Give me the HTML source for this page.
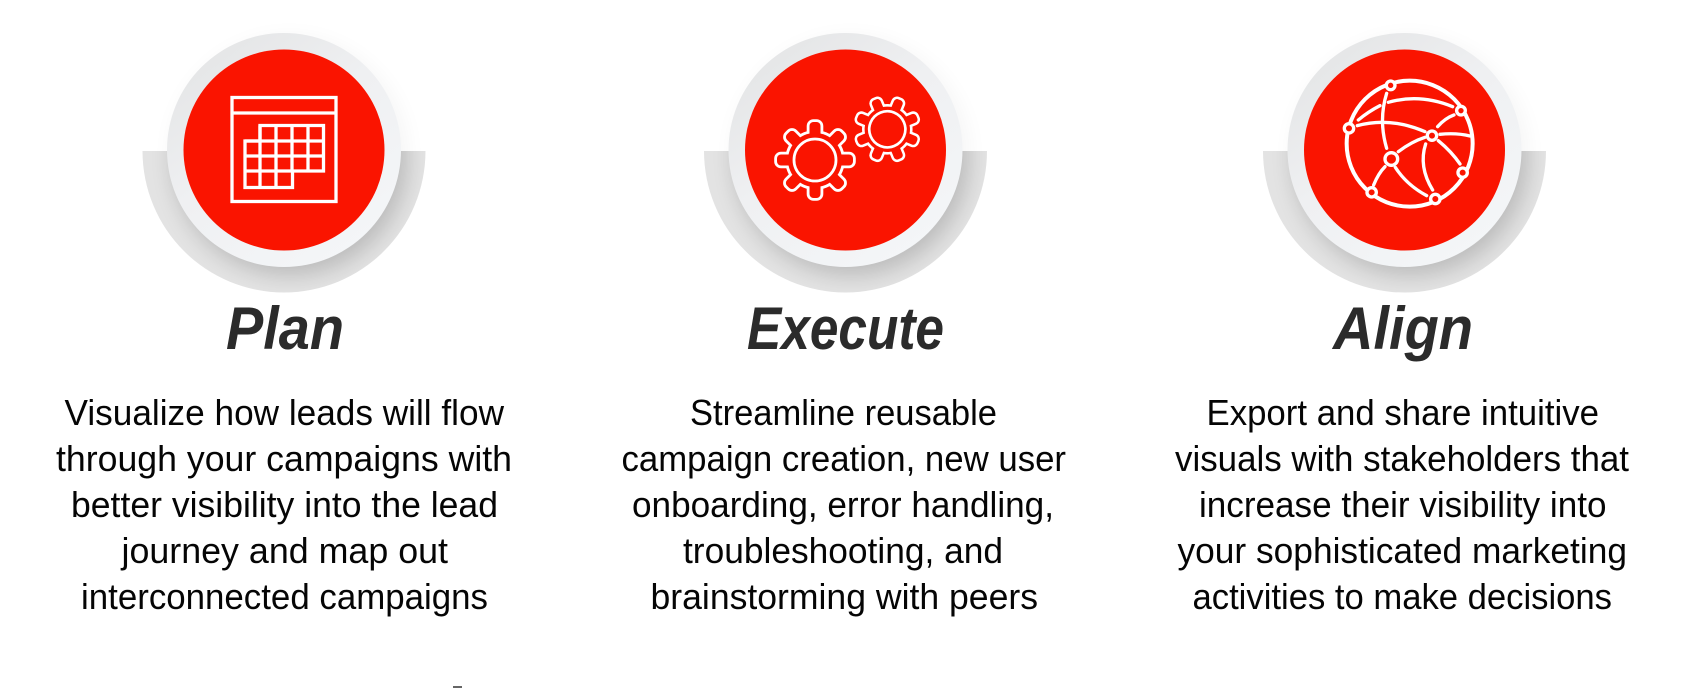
<!DOCTYPE html>
<html lang="en">
<head>
<meta charset="utf-8">
<title>Plan, Execute, Align</title>
<style>
html,body{margin:0;padding:0;background:#fff;width:1686px;height:688px;overflow:hidden}
svg{display:block}
.t{font-family:"Liberation Sans",sans-serif;font-weight:700;font-style:italic;font-size:60px;fill:#2b2b2b}
.b{font-family:"Liberation Sans",sans-serif;font-size:36px;fill:#050505}
.ic{fill:none;stroke:#fff;stroke-linecap:round}
</style>
</head>
<body>
<svg width="1686" height="688" viewBox="0 0 1686 688" xmlns="http://www.w3.org/2000/svg">
<defs>
  <linearGradient id="ring" x1="0.15" y1="0.05" x2="0.8" y2="0.95">
    <stop offset="0" stop-color="#e4e5e6"/>
    <stop offset="0.45" stop-color="#eff0f2"/>
    <stop offset="1" stop-color="#f4f6f8"/>
  </linearGradient>
  <filter id="sh" x="-30%" y="-30%" width="160%" height="160%">
    <feGaussianBlur stdDeviation="11"/>
  </filter>
  <clipPath id="halfclip"><path d="M-141.5 1A141.5 141.5 0 0 0 141.5 1Z"/></clipPath>
  <g id="badge">
    <circle cx="5" cy="5" r="118" fill="#000" opacity="0.04" filter="url(#sh)"/>
    <path d="M-141.5 1A141.5 141.5 0 0 0 141.5 1Z" fill="#e3e3e3"/>
    <g clip-path="url(#halfclip)">
      <circle cx="6" cy="8" r="118" fill="#000" opacity="0.17" filter="url(#sh)"/>
    </g>
    <circle r="117" fill="url(#ring)"/>
    <circle r="100.5" fill="#fa1400"/>
  </g>
  <g id="gearShape">
    <circle r="27"/>
    <rect x="-5.500" y="-38" width="11" height="22" rx="4"/>
    <rect x="-5.500" y="-38" width="11" height="22" rx="4" transform="rotate(45)"/>
    <rect x="-5.500" y="-38" width="11" height="22" rx="4" transform="rotate(90)"/>
    <rect x="-5.500" y="-38" width="11" height="22" rx="4" transform="rotate(135)"/>
    <rect x="-5.500" y="-38" width="11" height="22" rx="4" transform="rotate(180)"/>
    <rect x="-5.500" y="-38" width="11" height="22" rx="4" transform="rotate(225)"/>
    <rect x="-5.500" y="-38" width="11" height="22" rx="4" transform="rotate(270)"/>
    <rect x="-5.500" y="-38" width="11" height="22" rx="4" transform="rotate(315)"/>
  </g>
</defs>

<use href="#badge" transform="translate(284,150)"/>
<use href="#badge" transform="translate(845.5,150)"/>
<use href="#badge" transform="translate(1404.5,150)"/>

<!-- Calendar -->
<g fill="none" stroke="#fff" stroke-width="3.300">
  <rect x="232" y="97.500" width="104" height="104"/>
  <path d="M232 113H336" />
  <path d="M260 125.500H323.500V171H292.500V187.500H245V141H260Z"/>
  <path d="M260 125.500V187.500M276 125.500V187.500M292 125.500V171M308 125.500V171M245 141H323.500M245 156H323.500M245 171H292.500"/>
</g>

<!-- Gears -->
<g transform="translate(815,160)">
  <use href="#gearShape" fill="#fff" stroke="#fff" stroke-width="5.600" stroke-linejoin="round"/>
  <use href="#gearShape" fill="#fa1400"/>
  <circle r="21" fill="none" stroke="#fff" stroke-width="2.800"/>
</g>
<g transform="translate(887.3,129.3) rotate(22.500) scale(.84)">
  <use href="#gearShape" fill="#fff" stroke="#fff" stroke-width="6" stroke-linejoin="round"/>
  <use href="#gearShape" fill="#fa1400"/>
  <circle r="21.500" fill="none" stroke="#fff" stroke-width="3.200"/>
</g>

<!-- Globe -->
<g transform="translate(1250,10) scale(.3333)">
  <circle class="ic" cx="479" cy="401" r="189" stroke-width="12"/>
  <g class="ic" stroke-width="10">
    <path d="M410 250Q385 330 410 415"/>
    <path d="M415 277Q510 250 608 290"/>
    <path d="M325 330Q355 305 390 287"/>
    <path d="M322 347Q420 320 525 365"/>
    <path d="M563 350Q585 325 612 315"/>
    <path d="M570 373Q620 368 660 378"/>
    <path d="M445 425Q485 395 525 382"/>
    <path d="M565 392Q605 425 630 462"/>
    <path d="M527 402Q505 470 548 540"/>
    <path d="M436 472Q470 525 530 557"/>
    <path d="M405 470Q385 490 371 525"/>
  </g>
  <g fill="#fa1400" stroke="#fff" stroke-width="10">
    <circle cx="422" cy="226" r="13"/>
    <circle cx="633" cy="302" r="13"/>
    <circle cx="297" cy="355" r="14"/>
    <circle cx="546" cy="377" r="14"/>
    <circle cx="424" cy="447" r="19"/>
    <circle cx="638" cy="488" r="14"/>
    <circle cx="365" cy="547" r="14"/>
    <circle cx="556" cy="567" r="14"/>
  </g>
</g>

<!-- Titles -->
<text class="t" x="226" y="349" textLength="118" lengthAdjust="spacingAndGlyphs">Plan</text>
<text class="t" x="747" y="349" textLength="197" lengthAdjust="spacingAndGlyphs">Execute</text>
<text class="t" x="1333" y="349" textLength="140" lengthAdjust="spacingAndGlyphs">Align</text>

<!-- Body column 1 -->
<text class="b" x="64.500" y="425" textLength="439.500" lengthAdjust="spacingAndGlyphs">Visualize how leads will flow</text>
<text class="b" x="56" y="471" textLength="456" lengthAdjust="spacingAndGlyphs">through your campaigns with</text>
<text class="b" x="71" y="517" textLength="427" lengthAdjust="spacingAndGlyphs">better visibility into the lead</text>
<text class="b" x="121.500" y="563" textLength="326.500" lengthAdjust="spacingAndGlyphs">journey and map out</text>
<text class="b" x="81" y="609" textLength="407" lengthAdjust="spacingAndGlyphs">interconnected campaigns</text>

<!-- Body column 2 -->
<text class="b" x="690" y="425" textLength="307" lengthAdjust="spacingAndGlyphs">Streamline reusable</text>
<text class="b" x="621.500" y="471" textLength="444.500" lengthAdjust="spacingAndGlyphs">campaign creation, new user</text>
<text class="b" x="632" y="517" textLength="422" lengthAdjust="spacingAndGlyphs">onboarding, error handling,</text>
<text class="b" x="683" y="563" textLength="320" lengthAdjust="spacingAndGlyphs">troubleshooting, and</text>
<text class="b" x="650.500" y="609" textLength="387.500" lengthAdjust="spacingAndGlyphs">brainstorming with peers</text>

<!-- Body column 3 -->
<text class="b" x="1206.500" y="425" textLength="392.500" lengthAdjust="spacingAndGlyphs">Export and share intuitive</text>
<text class="b" x="1175" y="471" textLength="454" lengthAdjust="spacingAndGlyphs">visuals with stakeholders that</text>
<text class="b" x="1199" y="517" textLength="407.500" lengthAdjust="spacingAndGlyphs">increase their visibility into</text>
<text class="b" x="1177.500" y="563" textLength="449.500" lengthAdjust="spacingAndGlyphs">your sophisticated marketing</text>
<text class="b" x="1192.500" y="609" textLength="419.500" lengthAdjust="spacingAndGlyphs">activities to make decisions</text>

<rect x="453" y="686" width="9" height="2" fill="#666"/>
</svg>
</body>
</html>
